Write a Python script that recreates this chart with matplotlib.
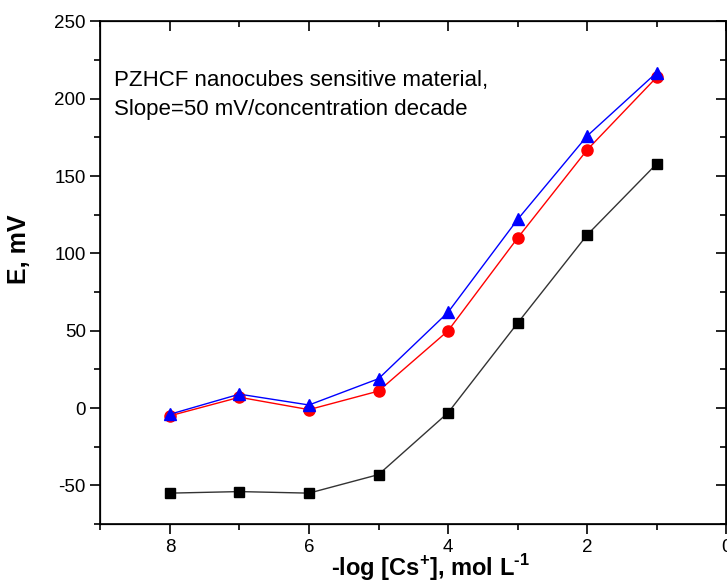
import numpy as np
import matplotlib.pyplot as plt
from matplotlib.ticker import MultipleLocator

plt.rcParams['font.family'] = ['Liberation Sans', 'DejaVu Sans']
plt.rcParams['mathtext.fontset'] = 'custom'
plt.rcParams['mathtext.rm'] = 'Liberation Sans'
plt.rcParams['mathtext.bf'] = 'Liberation Sans:bold'
plt.rcParams['axes.unicode_minus'] = False

#Concentration (-log [Cs+])
pcs = [8, 7, 6, 5, 4, 3, 2, 1]
#Potentials for the three series, mV
e_square = [-55, -54, -55, -43, -3, 55, 112, 158]
e_circle = [-5, 7, -1, 11, 50, 110, 167, 214]
e_triangle = [-4, 9, 2, 19, 62, 122, 176, 217]

fig = plt.figure(figsize=(7.27, 5.81), dpi=100)
ax = fig.add_axes([0.138, 0.098, 0.861, 0.865])

ax.plot(pcs, e_square, '-s', color='#333333', mfc='black', mec='black', ms=7, lw=1)
ax.plot(pcs, e_circle, '-o', color='red', ms=8, lw=1)
ax.plot(pcs, e_triangle, '-^', color='blue', ms=8.5, lw=1)

ax.set_xlim(9, 0)
ax.set_ylim(-75, 250)
ax.xaxis.set_major_locator(MultipleLocator(2))
ax.xaxis.set_minor_locator(MultipleLocator(1))
ax.yaxis.set_major_locator(MultipleLocator(50))
ax.yaxis.set_minor_locator(MultipleLocator(25))

ax.tick_params(which='both', direction='out', width=1.2, labelsize=13.5)
ax.tick_params(which='major', length=7)
ax.tick_params(which='minor', length=4)
for sp in ax.spines.values():
    sp.set_linewidth(1.2)

#Top and right ticks point inward
ax2 = ax.twiny()
ax2.set_xlim(ax.get_xlim())
ax2.xaxis.set_major_locator(MultipleLocator(2))
ax2.xaxis.set_minor_locator(MultipleLocator(1))
ax2.tick_params(which='both', direction='in', width=1.2, labeltop=False)
ax2.tick_params(which='major', length=7)
ax2.tick_params(which='minor', length=4)
ax3 = ax.twinx()
ax3.set_ylim(ax.get_ylim())
ax3.yaxis.set_major_locator(MultipleLocator(50))
ax3.yaxis.set_minor_locator(MultipleLocator(25))
ax3.tick_params(which='both', direction='in', width=1.2, labelright=False)
ax3.tick_params(which='major', length=7)
ax3.tick_params(which='minor', length=4)

fig.text(430/727, 1-568/581, '-log [Cs$^{\\mathbf{+}}$], mol L$^{\\mathbf{\u2010}\\mathbf{1}}$',
         fontsize=17, fontweight='bold', ha='center', va='center')
fig.text(19/727, 1-249/581, 'E, mV', fontsize=18, fontweight='bold',
         rotation=90, ha='center', va='center')

fig.text(114/727, 1-95/581, 'PZHCF nanocubes sensitive material,\nSlope=50 mV/concentration decade',
         fontsize=16, ha='left', va='center', linespacing=1.45)

fig.savefig('out.png', dpi=100)
